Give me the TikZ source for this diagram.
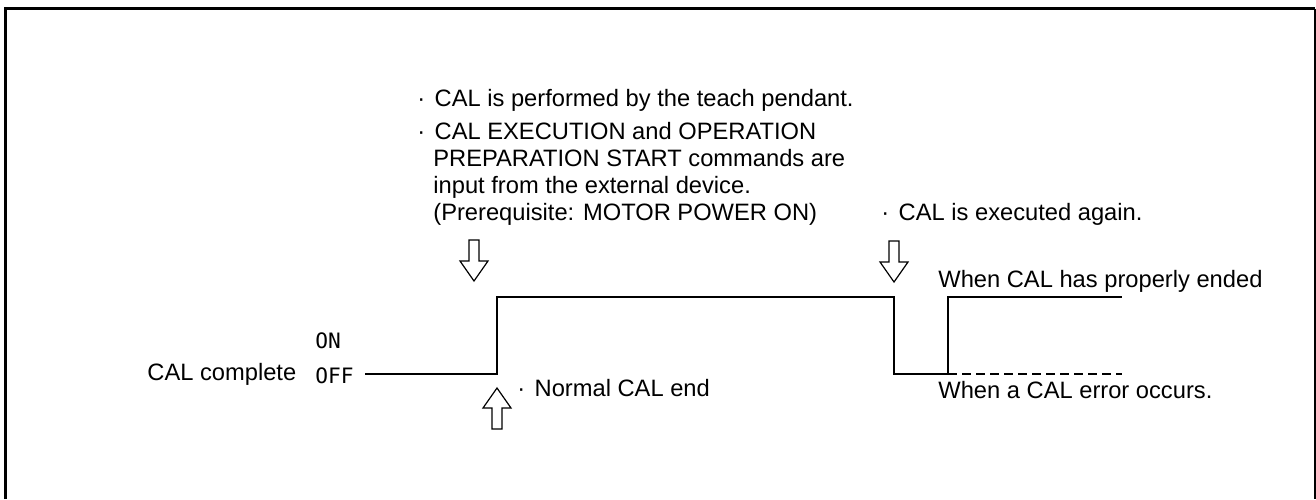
\documentclass[tikz,border=0pt]{standalone}
\usepackage{fontspec}
\setmainfont{Liberation Sans}
\newfontfamily\lampfont{DejaVu Sans Mono}
\usetikzlibrary{positioning}
\newcommand\notedot{·\hspace{4.7pt}}

\begin{document}
\begin{tikzpicture}[x=0.5pt,y=-0.5pt,
    note/.style={anchor=base west,inner sep=0pt,font=\fontsize{11.85}{13}\selectfont},
    level/.style={anchor=base west,inner sep=0pt,font=\lampfont\fontsize{10.6}{12}\selectfont},
    signal/.style={line width=0.75pt,line join=miter},
    errsignal/.style={line width=0.75pt,dash pattern=on 4.5pt off 2.5pt},
    frameline/.style={line width=1.5pt},
    padarrow/.pic={\draw[line width=0.6pt,fill=white,line join=miter]
      (0,0) -- (-14,-20) -- (-5,-20) -- (-5,-41) -- (5,-41) -- (5,-20) -- (14,-20) -- cycle;}
  ]
    \useasboundingbox (0,0) rectangle (1316,499);
    % frame
    \draw[frameline] (5.3,499) -- (5.3,8.7) -- (1315,8.7);
    \draw[line width=0.65pt] (1315,8.7) -- (1315,499);

    % notes
    \node[note] (calnote) at (417,106) {\notedot CAL is performed by the teach pendant.};
    \node[note] (extnote) at (417,139) {\notedot CAL EXECUTION and OPERATION};
    \node[note] (extnote2) at (433,166) {PREPARATION START commands are};
    \node[note] (extnote3) at (433,193) {input from the external device.};
    \node[note] (extnote4) at (433,220) {(Prerequisite: MOTOR POWER ON)};
    \node[note] (againnote) at (881,220) {\notedot CAL is executed again.};

    % signal
    \node[note] (signame) at (147,380) {CAL complete};
    \node[level] (offlbl) at (315,383) {OFF};
    \node[level] (onlbl) at (315,348) {ON};
    \coordinate (lowA) at (365,374);
    \coordinate (riseA) at (497,374);
    \coordinate (fallB) at (894,297);
    \coordinate (riseC) at (948,374);
    \coordinate (endHigh) at (1122,297);
    \coordinate (endLow) at (1122,374);
    \draw[signal] (lowA) -- (riseA) |- (fallB) |- (riseC) |- (endHigh);
    \draw[errsignal] (riseC) -- (endLow);

    \node[note] (oknote) at (938,287) {When CAL has properly ended};
    \node[note] (errnote) at (938,398) {When a CAL error occurs.};
    \node[note] (endnote) at (517,396) {\notedot Normal CAL end};

    % timing marks
    \pic (pushA) at (474,281) {padarrow};
    \pic (pushB) at (894,282) {padarrow};
    \pic[rotate=180] (pushC) at (497,388) {padarrow};
  \end{tikzpicture}
\end{document}
